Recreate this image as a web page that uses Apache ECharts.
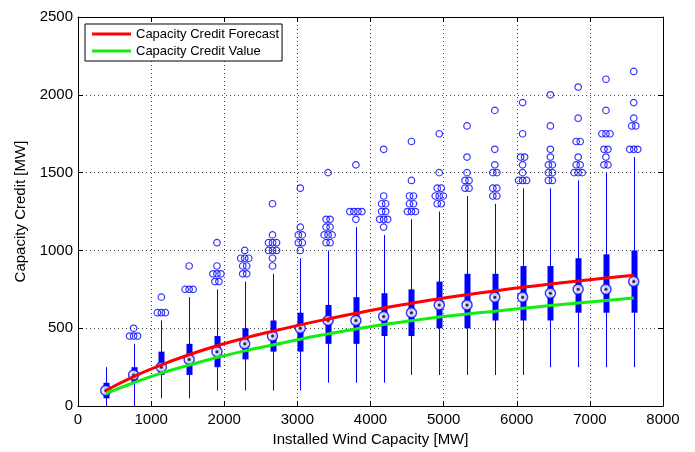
<!DOCTYPE html>
<html>
<head>
<meta charset="utf-8">
<script src="https://cdn.jsdelivr.net/npm/echarts@6/dist/echarts.min.js"></script>
<style>
html,body{margin:0;padding:0;background:#fff;}
#chart{width:695px;height:452px;}
</style>
</head>
<body>
<div id="chart"></div>
<script>
// ---- data ----
const positions = [380, 760, 1140, 1520, 1900, 2280, 2660, 3040, 3420, 3800, 4180, 4560, 4940, 5320, 5700, 6080, 6460, 6840, 7220, 7600];
const whiskerLow = [0, 0, 50, 50, 100, 100, 100, 100, 150, 150, 150, 200, 200, 200, 200, 200, 250, 250, 250, 250];
const q1 = [50, 150, 200, 200, 250, 300, 350, 350, 400, 400, 450, 450, 500, 500, 550, 550, 550, 600, 600, 600];
const median = [100, 200, 250, 300, 350, 400, 450, 500, 550, 550, 575, 600, 650, 650, 700, 700, 725, 750, 750, 800];
const q3 = [150, 250, 350, 400, 450, 500, 550, 600, 650, 700, 725, 750, 800, 850, 850, 900, 900, 950, 975, 1000];
const whiskerHigh = [250, 400, 550, 700, 750, 800, 850, 950, 1000, 1150, 1100, 1200, 1250, 1350, 1300, 1400, 1400, 1450, 1500, 1600];
const outliers = [
  [],
  [450, 450, 450, 500],
  [600, 600, 600, 700],
  [750, 750, 750, 900],
  [800, 800, 850, 850, 850, 900, 1050],
  [850, 850, 900, 900, 950, 950, 950, 1000],
  [900, 950, 1000, 1000, 1000, 1050, 1050, 1050, 1100, 1300],
  [1000, 1050, 1050, 1100, 1100, 1150, 1400],
  [1050, 1050, 1100, 1100, 1100, 1150, 1150, 1200, 1200, 1500],
  [1200, 1250, 1250, 1250, 1250, 1550],
  [1150, 1200, 1200, 1200, 1250, 1250, 1300, 1300, 1350, 1650],
  [1250, 1250, 1250, 1300, 1300, 1350, 1350, 1450, 1700],
  [1300, 1300, 1350, 1350, 1350, 1400, 1400, 1500, 1750],
  [1400, 1400, 1450, 1450, 1500, 1600, 1800],
  [1350, 1350, 1400, 1400, 1500, 1500, 1550, 1650, 1900],
  [1450, 1450, 1450, 1500, 1550, 1600, 1600, 1750, 1950],
  [1450, 1450, 1500, 1500, 1550, 1550, 1600, 1650, 1800, 2000],
  [1500, 1500, 1500, 1550, 1550, 1600, 1700, 1700, 1850, 2050],
  [1550, 1550, 1600, 1650, 1650, 1750, 1750, 1750, 1900, 2100],
  [1650, 1650, 1650, 1800, 1800, 1850, 1950, 2150]
];
const forecast = [100, 190, 265, 330, 388, 437, 481, 522, 560, 596, 630, 661, 690, 716, 740, 763, 784, 804, 823, 840];
const creditValue = [80, 150, 212, 263, 312, 355, 392, 430, 464, 496, 524, 549, 572, 592, 609, 628, 646, 663, 679, 694];
const xTicks = [0, 1000, 2000, 3000, 4000, 5000, 6000, 7000, 8000];
const yTicks = [0, 500, 1000, 1500, 2000, 2500];

// ---- build ----
const FONT = "'Liberation Sans', Arial, Helvetica, sans-serif";
const BLUE = '#0000ff';
const boxRows = positions.map((p, i) => [p, whiskerLow[i], q1[i], median[i], q3[i], whiskerHigh[i]]);
const medianPts = positions.map((p, i) => [p, median[i]]);
const outlierPts = [];
positions.forEach((p, i) => {
  const vals = outliers[i];
  const counts = {};
  vals.forEach(v => counts[v] = (counts[v] || 0) + 1);
  const seen = {};
  vals.forEach(v => {
    const n = counts[v];
    const k = seen[v] = (seen[v] === undefined ? 0 : seen[v] + 1);
    const dx = (k - (n - 1) / 2) * 4;
    outlierPts.push({ value: [p, v], symbolOffset: [dx, 0] });
  });
});

const chart = echarts.init(document.getElementById('chart'), null, { renderer: 'canvas' });

const axisCommon = {
  axisLine: { show: true, onZero: false, lineStyle: { color: '#000', width: 1 } },
  axisTick: { show: true, inside: true, length: 5, lineStyle: { color: '#000' } },
};
const plainLabel = v => String(v);

chart.setOption({
  animation: false,
  backgroundColor: '#fff',
  textStyle: { fontFamily: FONT },
  grid: { left: 78, right: 32, top: 17, bottom: 44, containLabel: false },
  legend: {
    left: 85, top: 24, orient: 'vertical',
    data: ['Capacity Credit Forecast', 'Capacity Credit Value'],
    icon: 'rect', itemWidth: 39, itemHeight: 3, itemGap: 3,
    padding: [3, 3, 3, 7],
    backgroundColor: '#fff', borderColor: '#000', borderWidth: 1,
    textStyle: { fontSize: 13, color: '#000', fontFamily: FONT, lineHeight: 14 }
  },
  xAxis: [
    Object.assign({
      type: 'value', min: xTicks[0], max: xTicks[xTicks.length - 1], interval: 1000,
      name: 'Installed Wind Capacity [MW]', nameLocation: 'middle', nameGap: 25,
      nameTextStyle: { fontSize: 15, color: '#000', fontFamily: FONT },
      axisLabel: { fontSize: 15, color: '#000', margin: 6, fontFamily: FONT, formatter: plainLabel },
      splitLine: { show: true, lineStyle: { color: '#444', type: [1, 3], width: 1 } }
    }, axisCommon),
    Object.assign({
      type: 'value', position: 'top', min: xTicks[0], max: xTicks[xTicks.length - 1], interval: 1000,
      axisLabel: { show: false }, splitLine: { show: false }
    }, axisCommon)
  ],
  yAxis: [
    Object.assign({
      type: 'value', min: yTicks[0], max: yTicks[yTicks.length - 1], interval: 500,
      name: 'Capacity Credit [MW]', nameLocation: 'middle', nameGap: 50,
      nameTextStyle: { fontSize: 15, color: '#000', fontFamily: FONT },
      axisLabel: { fontSize: 15, color: '#000', margin: 5, fontFamily: FONT, formatter: plainLabel },
      splitLine: { show: true, lineStyle: { color: '#444', type: [1, 3], width: 1 } }
    }, axisCommon),
    Object.assign({
      type: 'value', position: 'right', min: yTicks[0], max: yTicks[yTicks.length - 1], interval: 500,
      axisLabel: { show: false }, splitLine: { show: false }
    }, axisCommon)
  ],
  series: [
    {
      type: 'custom', name: 'box', z: 2,
      data: boxRows,
      encode: { x: 0, y: [1, 2, 3, 4, 5] },
      renderItem: function (params, api) {
        const x = api.value(0);
        const pLow = api.coord([x, api.value(1)]);
        const pQ1 = api.coord([x, api.value(2)]);
        const pQ3 = api.coord([x, api.value(4)]);
        const pHigh = api.coord([x, api.value(5)]);
        const cx = Math.round(pLow[0]) + 0.5;
        return {
          type: 'group',
          children: [
            { type: 'line', shape: { x1: cx, y1: pLow[1], x2: cx, y2: pHigh[1] },
              style: { stroke: BLUE, lineWidth: 1 } },
            { type: 'rect', shape: { x: cx - 3, y: pQ3[1], width: 6, height: pQ1[1] - pQ3[1] },
              style: { fill: BLUE } }
          ]
        };
      }
    },
    {
      type: 'scatter', name: 'outliers', z: 3,
      data: outlierPts,
      symbol: 'circle', symbolSize: 6.5,
      itemStyle: { color: 'rgba(0,0,0,0)', borderColor: BLUE, borderWidth: 1.2 }
    },
    {
      type: 'scatter', name: 'medianRing', z: 4,
      data: medianPts,
      symbol: 'circle', symbolSize: 10,
      itemStyle: { color: '#fff', borderColor: BLUE, borderWidth: 1.5 }
    },
    {
      type: 'scatter', name: 'medianDot', z: 5,
      data: medianPts,
      symbol: 'circle', symbolSize: 3,
      itemStyle: { color: '#000' }
    },
    {
      type: 'line', name: 'Capacity Credit Forecast', z: 6,
      data: positions.map((p, i) => [p, forecast[i]]),
      smooth: true, symbol: 'none',
      lineStyle: { color: '#ff0000', width: 3 }, itemStyle: { color: '#ff0000' }
    },
    {
      type: 'line', name: 'Capacity Credit Value', z: 6,
      data: positions.map((p, i) => [p, creditValue[i]]),
      smooth: true, symbol: 'none',
      lineStyle: { color: '#11ee11', width: 3 }, itemStyle: { color: '#11ee11' }
    }
  ]
});
</script>
</body>
</html>
